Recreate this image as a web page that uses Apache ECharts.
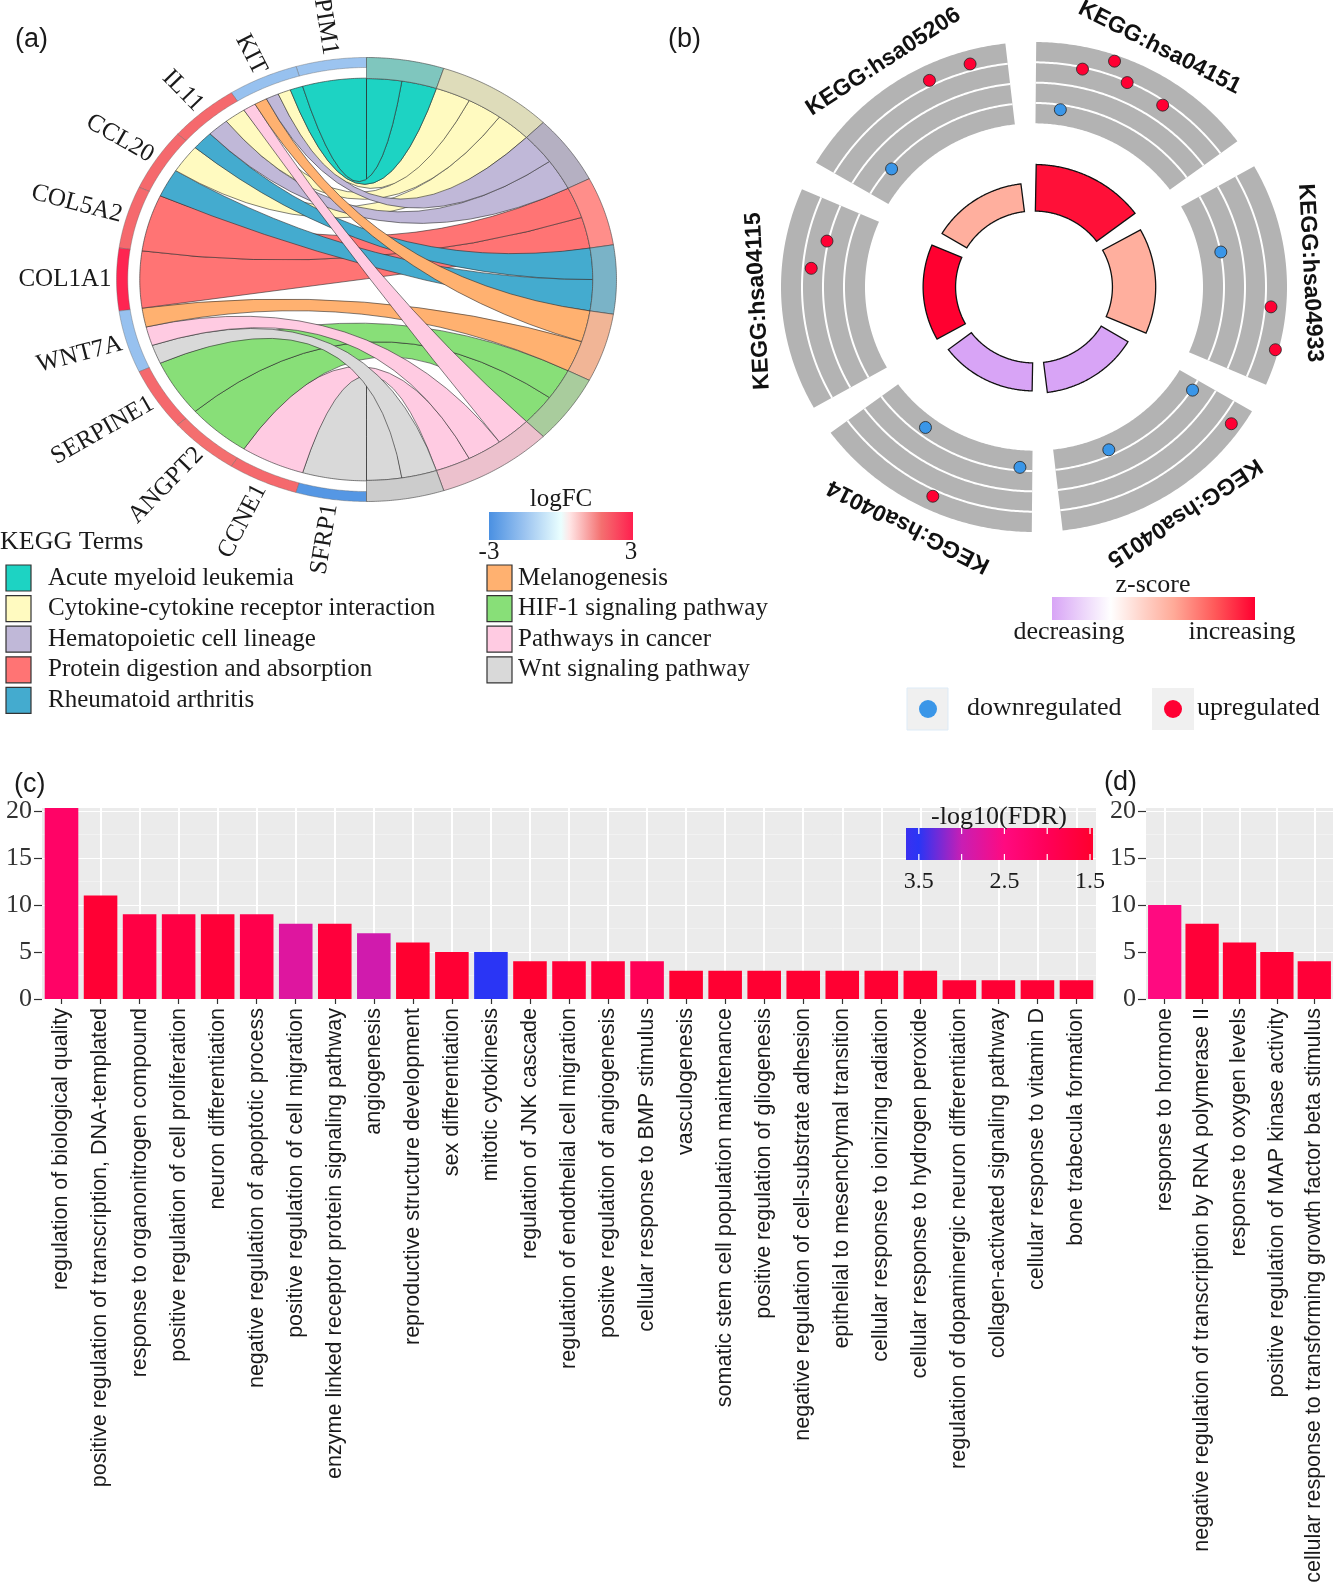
<!DOCTYPE html>
<html><head><meta charset="utf-8">
<script src="https://cdn.jsdelivr.net/npm/echarts@6/dist/echarts.min.js"></script>
<style>html,body{margin:0;padding:0;background:#fff;}#chart{width:1333px;height:1588px;}</style>
</head><body><div id="chart"></div>
<script>
// ---------------- Panel (a): GOChord data ----------------
const genes = ['PIM1','KIT','IL11','CCL20','COL5A2','COL1A1','WNT7A','SERPINE1','ANGPT2','CCNE1','SFRP1'];
const geneLogFC = [-1.5,-1.6,1.8,1.8,1.8,2.9,-1.6,1.8,1.7,1.8,-2.8];
const keggTerms = ['Acute myeloid leukemia','Cytokine-cytokine receptor interaction','Hematopoietic cell lineage','Protein digestion and absorption','Rheumatoid arthritis','Melanogenesis','HIF-1 signaling pathway','Pathways in cancer','Wnt signaling pathway'];
const termColors = ['#1dd3c3','#fffac0','#c0b8d8','#ff7474','#44abcf','#ffb170','#88df78','#ffcbe2','#d9d9d9'];
const termRingColors = ['#7fc6be','#dedcba','#b5b0c2','#ff8e8a','#7ab3c7','#f1b596','#a9cc9d','#ecc1cd','#cccccc'];
// memberships: term indices of each gene
const geneTerms = [[0],[0,1,2,5,7],[1,2,4],[1,4],[3],[3],[5,7,8],[6],[6],[7],[8]];
const logFCTicks = ['-3','3'];

// ---------------- Panel (b): GOCircle data ----------------
const pathways = ['KEGG:hsa04151','KEGG:hsa04933','KEGG:hsa04015','KEGG:hsa04014','KEGG:hsa04115','KEGG:hsa05206'];
const pathwaySig = [2.0, 1.8, 1.3, 1.2, 1.35, 1.2];
const dotPos04151 = [0.145,0.22,0.35,0.44,0.64], dotFC04151 = [-1.86,1.37,2.55,1.41,1.19];
const dotPos04933 = [0.35,0.65,0.84],            dotFC04933 = [-1.48,1.92,2.78];
const dotPos04015 = [0.064,0.096,0.67],          dotFC04015 = [-1.43,2.26,-1.93];
const dotPos04014 = [0.072,0.464,0.685],         dotFC04014 = [-1.73,1.97,-2.13];
const dotPos04115 = [0.65,0.80],                 dotFC04115 = [0.9,0.1];
const dotPos05206 = [0.19,0.63,0.83],            dotFC05206 = [-1.68,1.9,2.0];
const dotPos = [dotPos04151,dotPos04933,dotPos04015,dotPos04014,dotPos04115,dotPos05206];
const dotFC  = [dotFC04151,dotFC04933,dotFC04015,dotFC04014,dotFC04115,dotFC05206];

// ---------------- Panel (c) / (d): GO bars ----------------
const bpTerms = ['regulation of biological quality','positive regulation of transcription, DNA-templated','response to organonitrogen compound','positive regulation of cell proliferation','neuron differentiation','negative regulation of apoptotic process','positive regulation of cell migration','enzyme linked receptor protein signaling pathway','angiogenesis','reproductive structure development','sex differentiation','mitotic cytokinesis','regulation of JNK cascade','regulation of endothelial cell migration','positive regulation of angiogenesis','cellular response to BMP stimulus','vasculogenesis','somatic stem cell population maintenance','positive regulation of gliogenesis','negative regulation of cell-substrate adhesion','epithelial to mesenchymal transition','cellular response to ionizing radiation','cellular response to hydrogen peroxide','regulation of dopaminergic neuron differentiation','collagen-activated signaling pathway','cellular response to vitamin D','bone trabecula formation'];
const bpCount = [21,11,9,9,9,9,8,8,7,6,5,5,4,4,4,4,3,3,3,3,3,3,3,2,2,2,2];
const bpLogFDR = [2.17,1.55,1.75,1.75,1.6,1.85,2.8,1.65,2.93,1.5,1.55,3.6,1.5,1.6,1.65,1.97,1.52,1.52,1.52,1.52,1.52,1.52,1.52,1.55,1.55,1.55,1.55];
const dTerms = ['response to hormone','negative regulation of transcription by RNA polymerase II','response to oxygen levels','positive regulation of MAP kinase activity','cellular response to transforming growth factor beta stimulus'];
const dCount = [10,8,6,5,4];
const dLogFDR = [2.5,1.6,1.55,1.55,1.6];
const yTicks = [0,5,10,15,20];
const fdrTicks = [3.5,2.5,1.5];
const fdrColors = ['#ff0030','#ff0058','#ff0a80','#c81eb4','#2a35f5'];

// ---------------- helpers ----------------
function hex(c){return [1,3,5].map(i=>parseInt(c.substr(i,2),16));}
function lerpColor(stops,t){t=Math.max(0,Math.min(1,t));for(let i=1;i<stops.length;i++){if(t<=stops[i][0]){const a=hex(stops[i-1][1]),b=hex(stops[i][1]);const f=(t-stops[i-1][0])/((stops[i][0]-stops[i-1][0])||1);return 'rgb('+a.map((v,k)=>Math.round(v+(b[k]-v)*f)).join(',')+')';}}return stops[stops.length-1][1];}
const fcStops=[[0,'#4a90e2'],[0.25,'#9cc4f0'],[0.5,'#eaffff'],[0.56,'#ffe6e6'],[0.78,'#f47070'],[1,'#ff1f4e']];
const zStops=[[0,'#d8a4f6'],[0.15,'#ecd4fa'],[0.29,'#ffffff'],[0.45,'#ffd2c8'],[0.6,'#ffaa98'],[0.8,'#ff5a5a'],[1,'#ff0030']];

const A={cx:366.5,cy:279.5,rx:250,ry:222};
const B={cx:1034,cy:287,rx:253,ry:245};
const RG=0.907, RT=0.905;
const L=(d,rn)=>{const t=d*Math.PI/180;return [A.cx-rn*A.rx*Math.sin(t),A.cy-rn*A.ry*Math.cos(t)];};
const R=(d,rn)=>{const t=d*Math.PI/180;return [A.cx+rn*A.rx*Math.sin(t),A.cy-rn*A.ry*Math.cos(t)];};
const PB=(d,rn)=>{const t=d*Math.PI/180;return [B.cx+rn*B.rx*Math.sin(t),B.cy-rn*B.ry*Math.cos(t)];};
function arcPts(fn,d0,d1,rn){const n=Math.max(2,Math.ceil(Math.abs(d1-d0)/0.5));const o=[];for(let i=0;i<=n;i++)o.push(fn(d0+(d1-d0)*i/n,rn));return o;}
function toPath(pts,move){return pts.map((p,i)=>((i===0&&move)?'M':'L')+p[0].toFixed(2)+' '+p[1].toFixed(2)).join(' ')+' ';}
function sectorPath(fn,d0,d1,r0,r1){return toPath(arcPts(fn,d0,d1,r1),true)+toPath(arcPts(fn,d1,d0,r0),false)+'Z';}

// chord layout derived from memberships
const links=[];
geneTerms.forEach((ts,g)=>ts.forEach((t,k)=>links.push({g,t,k,n:ts.length})));
const unit=180/links.length, gw=180/genes.length;
const termCount=keggTerms.map((_,t)=>links.filter(l=>l.t===t).length);
const termStart=[];{let acc=0;termCount.forEach((c,t)=>{termStart[t]=acc;acc+=c*unit;});}
links.forEach(l=>{l.a1=l.g*gw+l.k*gw/l.n;l.a2=l.a1+gw/l.n;const rank=links.filter(m=>m.t===l.t&&m.g<l.g).length;l.b1=termStart[l.t]+rank*unit;l.b2=l.b1+unit;});
const drawLinks=links.slice().reverse(); // first genes drawn on top
function ribbonPath(l){const e=R(l.b2,RT),s=L(l.a1,RG);
  return toPath(arcPts(L,l.a1,l.a2,RG),true)+`Q ${A.cx} ${A.cy} ${e[0].toFixed(2)} ${e[1].toFixed(2)} `+toPath(arcPts(R,l.b2,l.b1,RT),false)+`Q ${A.cx} ${A.cy} ${s[0].toFixed(2)} ${s[1].toFixed(2)} Z`;}

// GOCircle layout
const BIN=0.668;
const fcToR=f=>BIN+(f+3)/6*(1-BIN);
const secSpan=k=>[60*k+0.5,60*k+53.5];
const zscore=dotFC.map(a=>(a.filter(v=>v>0).length-a.filter(v=>v<0).length)/Math.sqrt(a.length));
const zmin=Math.min(...zscore), zmax=Math.max(...zscore);
const dots=[];dotPos.forEach((ps,k)=>ps.forEach((p,j)=>dots.push([k,p,dotFC[k][j]])));

const serif='Liberation Serif', sans='Liberation Sans';
function mkX(data,gi){return {type:'category',gridIndex:gi,data,boundaryGap:true,
  axisLine:{show:false},axisTick:{show:true,alignWithLabel:true,length:5,interval:0,lineStyle:{color:'#333',width:1.2}},
  axisLabel:{interval:0,rotate:90,fontSize:21.5,fontFamily:sans,color:'#1a1a1a',margin:9,hideOverlap:false},
  splitLine:{show:true,interval:0,alignWithLabel:true,lineStyle:{color:'#ffffff',width:2}}};}
function mkY(gi){return {type:'value',gridIndex:gi,min:0,max:20.3,interval:5,
  axisLine:{show:false},axisTick:{show:true,length:8,customValues:yTicks,lineStyle:{color:'#333',width:1.2}},
  axisLabel:{fontSize:26,fontFamily:serif,color:'#333',margin:10,customValues:yTicks},
  splitLine:{show:true,lineStyle:{color:'#ffffff',width:1.2}},
  minorTick:{show:false,splitNumber:2},minorSplitLine:{show:true,lineStyle:{color:'#f6f6f6',width:0.6}}};}

const G=[];
const txt=(x,y,text,o)=>G.push(Object.assign({type:'text',x,y,z:50,style:Object.assign({text,fill:'#1a1a1a',fontFamily:serif,fontSize:25,align:'left',verticalAlign:'middle'},o||{})}));
// panel labels
txt(15,40,'(a)',{fontFamily:sans,fontSize:27});
txt(668,40,'(b)',{fontFamily:sans,fontSize:27});
txt(14,785,'(c)',{fontFamily:sans,fontSize:27});
txt(1104,783,'(d)',{fontFamily:sans,fontSize:27});
// legend (a)
txt(0,542,'KEGG Terms',{fontSize:26});
keggTerms.forEach((t,i)=>{const col=i<5?0:1,row=i<5?i:i-5;const y=578+30.6*row;const x0=col?487:6;
  G.push({type:'rect',z:50,shape:{x:x0,y:y-13,width:25,height:26},style:{fill:termColors[i],stroke:'#333',lineWidth:1.2}});
  txt(col?518:48,y,t,{fontSize:25});});
G.push({type:'rect',z:50,shape:{x:489,y:512,width:144,height:28},style:{fill:{type:'linear',x:0,y:0,x2:1,y2:0,colorStops:fcStops.map(s=>({offset:s[0],color:s[1]}))}}});
txt(561,499,'logFC',{align:'center',fontSize:25});
txt(489,552,logFCTicks[0],{align:'center',fontSize:25});
txt(631,552,logFCTicks[1],{align:'center',fontSize:25});
// legend (b)
G.push({type:'rect',z:50,shape:{x:1052,y:597,width:203,height:23},style:{fill:{type:'linear',x:0,y:0,x2:1,y2:0,colorStops:zStops.map(s=>({offset:s[0],color:s[1]}))}}});
txt(1153,598,'z-score',{align:'center',verticalAlign:'bottom',fontSize:26});
txt(1069,632,'decreasing',{align:'center',fontSize:26});
txt(1242,632,'increasing',{align:'center',fontSize:26});
G.push({type:'rect',z:50,shape:{x:907,y:688,width:41,height:42},style:{fill:'#f0f0f0',stroke:'#ddebf7',lineWidth:1}});
G.push({type:'rect',z:50,shape:{x:1152,y:688,width:42,height:42},style:{fill:'#f0f0f0'}});
G.push({type:'circle',z:51,shape:{cx:928,cy:709,r:9},style:{fill:'#3a96e8'}});
G.push({type:'circle',z:51,shape:{cx:1173,cy:709,r:9},style:{fill:'#ff0033'}});
txt(967,708,'downregulated',{fontSize:26});
txt(1197,708,'upregulated',{fontSize:26});
// FDR colorbar (c)
const fL=3.65,fR=1.465,fx0=906,fw=187;
const fPos=v=>(fL-v)/(fL-fR);
const fdrStops=[{offset:0,color:'#3a30f0'}].concat(fdrColors.map((c,i)=>({offset:fPos(1.5+0.5*i),color:c})).reverse()).concat([{offset:1,color:'#ff0030'}]);
fdrStops.sort((a,b)=>a.offset-b.offset);
G.push({type:'rect',z:50,shape:{x:fx0,y:828,width:fw,height:32},style:{fill:{type:'linear',x:0,y:0,x2:1,y2:0,colorStops:fdrStops}}});
[3.5,3.0,2.5,2.0,1.5].forEach(v=>{const x=fx0+fPos(v)*fw;G.push({type:'line',z:51,shape:{x1:x,y1:828,x2:x,y2:834},style:{stroke:'#fff',lineWidth:1.2}});G.push({type:'line',z:51,shape:{x1:x,y1:854,x2:x,y2:860},style:{stroke:'#fff',lineWidth:1.2}});});
txt(999,817,'-log10(FDR)',{align:'center',fontSize:26});
fdrTicks.forEach(v=>txt(fx0+fPos(v)*fw,882,v.toFixed(1),{align:'center',fontSize:24}));

const option={
  animation:false,backgroundColor:'#ffffff',
  grid:[{left:42,top:808,width:1054,height:191,show:true,backgroundColor:'#ebebeb',borderWidth:0,containLabel:false,outerBoundsMode:'none'},
        {left:1146,top:808,width:187,height:191,show:true,backgroundColor:'#ebebeb',borderWidth:0,containLabel:false,outerBoundsMode:'none'}],
  xAxis:[mkX(bpTerms,0),mkX(dTerms,1)],
  yAxis:[mkY(0),mkY(1)],
  visualMap:[{type:'continuous',show:false,min:1.5,max:3.5,dimension:2,seriesIndex:[0,1],inRange:{color:fdrColors}}],
  series:[
    {type:'bar',xAxisIndex:0,yAxisIndex:0,barWidth:'86%',clip:true,data:bpTerms.map((t,i)=>[t,bpCount[i],bpLogFDR[i]])},
    {type:'bar',xAxisIndex:1,yAxisIndex:1,barWidth:'89%',clip:true,data:dTerms.map((t,i)=>[t,dCount[i],dLogFDR[i]])},
    // gene labels (under rings)
    {type:'custom',coordinateSystem:'none',z:1,data:genes.map((g,i)=>i),renderItem:(p)=>{const i=p.dataIndex;const d=(i+0.5)*gw,t=d*Math.PI/180;
      const x=A.cx-(A.rx+5)*Math.sin(t),y=A.cy-(A.ry+5)*Math.cos(t);const rot=Math.atan2(-A.ry*Math.cos(t),A.rx*Math.sin(t));
      return {type:'text',x,y,rotation:rot,style:{text:genes[i],fill:'#1a1a1a',fontFamily:serif,fontSize:25,align:'right',verticalAlign:'middle'}};}},
    // ribbons
    {type:'custom',coordinateSystem:'none',z:2,data:drawLinks.map((l,i)=>i),renderItem:(p)=>{const l=drawLinks[p.dataIndex];
      return {type:'path',shape:{pathData:ribbonPath(l)},style:{fill:termColors[l.t],stroke:'#2b2b2b',lineWidth:0.6}};}},
    // gene ring
    {type:'custom',coordinateSystem:'none',z:3,data:genes.map((g,i)=>i),renderItem:(p)=>{const i=p.dataIndex;
      return {type:'path',shape:{pathData:sectorPath(L,i*gw,(i+1)*gw,0.955,1.0)},style:{fill:lerpColor(fcStops,(geneLogFC[i]+3)/6),stroke:'#666',lineWidth:0.4}};}},
    // term ring
    {type:'custom',coordinateSystem:'none',z:3,data:keggTerms.map((t,i)=>i),renderItem:(p)=>{const i=p.dataIndex;const s=termStart[i],e=s+termCount[i]*unit;
      return {type:'path',shape:{pathData:sectorPath(R,s,e,RT,1.0)},style:{fill:termRingColors[i],stroke:'#444',lineWidth:0.6}};}},
    // GOCircle gray bands
    {type:'custom',coordinateSystem:'none',z:2,data:pathways.map((t,i)=>i),renderItem:(p)=>{const [s,e]=secSpan(p.dataIndex);
      const ch=[{type:'path',shape:{pathData:sectorPath(PB,s,e,BIN,1.0)},style:{fill:'#b3b3b3'}}];
      [-1.5,0,1.5].forEach(f=>ch.push({type:'polyline',shape:{points:arcPts(PB,s,e,fcToR(f))},style:{stroke:'#ffffff',lineWidth:2,fill:null}}));
      return {type:'group',children:ch};}},
    // GOCircle gene dots
    {type:'custom',coordinateSystem:'none',z:4,data:dots.map((d,i)=>i),renderItem:(p)=>{const [k,pos,f]=dots[p.dataIndex];const [s,e]=secSpan(k);const c=PB(s+pos*(e-s),fcToR(f));
      return {type:'circle',shape:{cx:c[0],cy:c[1],r:6},style:{fill:f>0?'#ff0033':'#3a96e8',stroke:'#222',lineWidth:0.8}};}},
    // GOCircle inner z-score bars
    {type:'custom',coordinateSystem:'none',z:3,data:pathways.map((t,i)=>i),renderItem:(p)=>{const k=p.dataIndex;const s=60*k+1,e=60*k+53;
      return {type:'path',shape:{pathData:sectorPath(PB,s,e,0.31,0.31+pathwaySig[k]*0.095)},style:{fill:lerpColor(zStops,(zscore[k]-zmin)/(zmax-zmin)),stroke:'#111',lineWidth:1.3}};}},
    // GOCircle labels
    {type:'custom',coordinateSystem:'none',z:4,data:pathways.map((t,i)=>i),renderItem:(p)=>{const k=p.dataIndex;const [s,e]=secSpan(k);const d=(s+e)/2,t=d*Math.PI/180;
      return {type:'text',x:B.cx+(B.rx+12)*Math.sin(t),y:B.cy-(B.ry+12)*Math.cos(t),rotation:-t,style:{text:pathways[k],fill:'#111',fontFamily:sans,fontWeight:'bold',fontSize:23,align:'center',verticalAlign:'bottom'}};}}
  ],
  graphic:{elements:G}
};
const chart=echarts.init(document.getElementById('chart'),null,{renderer:'canvas'});
chart.setOption(option);
</script></body></html>
